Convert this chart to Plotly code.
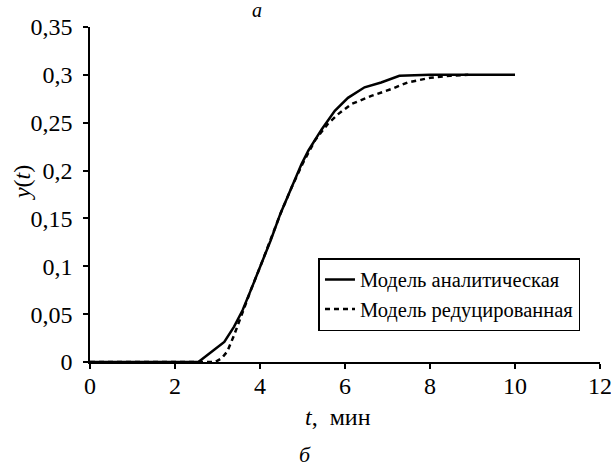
import plotly.graph_objects as go

t_analytic = [0, 2.55, 2.93, 3.16, 3.39, 3.59, 3.82, 4.01, 4.25, 4.48, 4.71, 4.98, 5.14, 5.45, 5.76, 6.07, 6.46, 6.85, 7.28, 8.0, 9.0, 10.0]
y_analytic = [0, 0, 0.013, 0.021, 0.037, 0.054, 0.079, 0.0995, 0.127, 0.155, 0.179, 0.207, 0.221, 0.243, 0.2625, 0.276, 0.287, 0.292, 0.299, 0.3, 0.3, 0.3]

t_reduced = [0, 2.95, 3.1, 3.23, 3.39, 3.55, 3.8, 4.0, 4.25, 4.5, 4.75, 5.0, 5.3, 5.6, 5.84, 6.15, 6.62, 7.08, 7.47, 8.01, 8.47, 8.9]
y_reduced = [0, 0, 0.004, 0.011, 0.028, 0.048, 0.077, 0.099, 0.128, 0.157, 0.183, 0.207, 0.232, 0.249, 0.259, 0.2695, 0.278, 0.285, 0.292, 0.297, 0.299, 0.3]

x_ticks = [0, 2, 4, 6, 8, 10, 12]
y_ticks = [0, 0.05, 0.1, 0.15, 0.2, 0.25, 0.3, 0.35]
y_tick_labels = ["0", "0,05", "0,1", "0,15", "0,2", "0,25", "0,3", "0,35"]

FONT = "Liberation Serif"

fig = go.Figure()
fig.add_trace(go.Scatter(x=t_analytic, y=y_analytic, mode="lines",
                         name="Модель аналитическая",
                         line=dict(color="black", width=2.5)))
fig.add_trace(go.Scatter(x=t_reduced, y=y_reduced, mode="lines",
                         name="Модель редуцированная",
                         line=dict(color="black", width=2.5, dash="5px,4px")))

fig.update_layout(
    width=611, height=466,
    margin=dict(l=90, r=11, t=27, b=104, autoexpand=False),
    paper_bgcolor="white", plot_bgcolor="white",
    font=dict(family=FONT, size=24, color="black"),
    showlegend=True,
    legend=dict(x=0.448, y=0.31, xanchor="left", yanchor="top",
                bordercolor="black", borderwidth=1.5, bgcolor="white",
                font=dict(family=FONT, size=20.5), tracegroupgap=0,
                itemwidth=30),
    xaxis=dict(range=[0, 12], tickvals=x_ticks, ticks="outside", ticklen=5,
               tickwidth=1.5, tickcolor="black", automargin=False,
               ticklabelstandoff=-4,
               showline=True, linecolor="black", linewidth=1.5, showgrid=False,
               zeroline=False, tickfont=dict(size=24), ticklabeloverflow="allow"),
    yaxis=dict(range=[0, 0.35], tickvals=y_ticks,
               ticktext=[s + "\u00a0" for s in y_tick_labels],
               ticks="outside", ticklen=5, tickwidth=1.5, tickcolor="black",
               automargin=False,
               showline=True, linecolor="black",
               linewidth=1.5, showgrid=False, zeroline=False, tickfont=dict(size=24)),
)

# axis titles
fig.add_annotation(text="<i>t</i>,  мин", xref="paper", yref="paper", x=0.486, y=0,
                   xanchor="center", yanchor="middle", yshift=-55, showarrow=False,
                   font=dict(family=FONT, size=24))
fig.add_annotation(text="<i>y</i>(<i>t</i>)", xref="paper", yref="paper", x=0, y=0.534,
                   xanchor="center", yanchor="middle", xshift=-68, textangle=-90,
                   showarrow=False, font=dict(family=FONT, size=24))

# panel labels
fig.add_annotation(text="<i>б</i>", xref="paper", yref="paper", x=0.4216, y=0,
                   xanchor="center", yanchor="bottom", yshift=-107, showarrow=False,
                   font=dict(family=FONT, size=22))
fig.add_annotation(text="<i>а</i>", xref="paper", yref="paper", x=0.327, y=1.0,
                   xanchor="center", yanchor="top", yshift=30, showarrow=False,
                   font=dict(family=FONT, size=20))

fig.write_html("out.html", config={"displayModeBar": False},
               post_script="document.body.style.margin='0';")
